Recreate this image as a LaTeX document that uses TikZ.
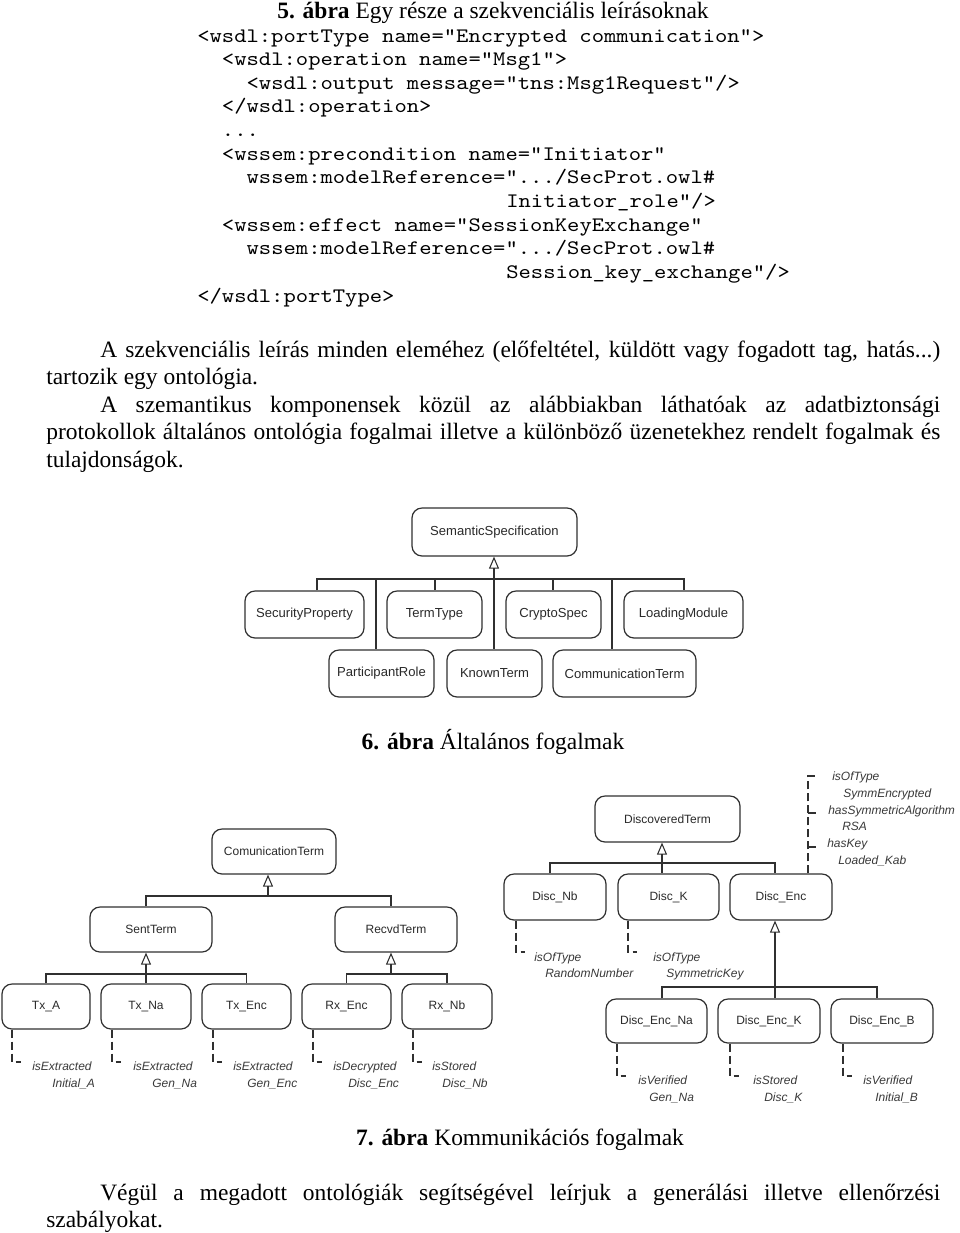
\documentclass[tikz,border=0pt]{standalone}
\usepackage{fontspec}
\setmainfont{Liberation Serif}
\setsansfont{Liberation Sans}
\newfontfamily\codefont{lmmono10-regular.otf}[FakeStretch=1.14]
\usetikzlibrary{arrows.meta}
\definecolor{lc}{HTML}{303030}
\definecolor{tc}{HTML}{2A2A2A}
\definecolor{ac}{HTML}{3A3A3A}
\newcommand\ubox[6]{\node[umlbox,minimum width={0.75pt*(#4-#2)},minimum height={0.75pt*(#5-#3)}] (#1) at ({(#2+#4)/2},{(#3+#5)/2}) {#6};}
\begin{document}
\begin{tikzpicture}[x=0.75pt,y=-0.75pt,
  umlbox/.style={draw=lc, line width=0.9pt, rounded corners=7.5pt, inner sep=0pt, text=tc, font=\sffamily\fontsize{9}{10}\selectfont},
  conn/.style={draw=lc, line width=0.8pt},
  gen/.style={conn, -{Triangle[open, length=9pt, width=7.5pt]}},
  dashl/.style={draw=lc, line width=0.8pt, dash pattern=on 6pt off 3pt},
  annot/.style={font=\sffamily\itshape\fontsize{9}{10}\selectfont, text=ac, inner sep=0pt, anchor=base west},
  body/.style={font=\fontsize{17.6}{21}\selectfont, inner sep=0pt, anchor=base west},
  code/.style={font=\codefont\fontsize{15.45}{18}\selectfont, inner sep=0pt, anchor=base west}]
\useasboundingbox[fill=white] (0,0) rectangle (960,1233);

% ---- caption 5 and code
\node[body, anchor=base] (cap5) at (493,18) {\textbf{5. ábra} Egy része a szekvenciális leírásoknak};
\node[code] (c1) at (197,42) {<wsdl:portType name="Encrypted communication">};
\node[code] (c2) at (221.7,65.6) {<wsdl:operation name="Msg1">};
\node[code] (c3) at (246.4,89.3) {<wsdl:output message="tns:Msg1Request"/>};
\node[code] (c4) at (221.7,112.9) {</wsdl:operation>};
\node[code] (c5) at (221.7,136.6) {...};
\node[code] (c6) at (221.7,160.2) {<wssem:precondition name="Initiator"};
\node[code] (c7) at (246.4,183.8) {wssem:modelReference=".../SecProt.owl\#};
\node[code] (c8) at (506,207.5) {Initiator\_role"/>};
\node[code] (c9) at (221.7,231.1) {<wssem:effect name="SessionKeyExchange"};
\node[code] (c10) at (246.4,254.8) {wssem:modelReference=".../SecProt.owl\#};
\node[code] (c11) at (506,278.4) {Session\_key\_exchange"/>};
\node[code] (c12) at (197,302) {</wsdl:portType>};

% ---- paragraphs
\node[body] (p1a) at (100,357) {\makebox[630pt][s]{A szekvenciális leírás minden eleméhez (előfeltétel, küldött vagy fogadott tag, hatás...)}};
\node[body] (p1b) at (46,384) {tartozik egy ontológia.};
\node[body] (p2a) at (100,412) {\makebox[630pt][s]{A szemantikus komponensek közül az alábbiakban láthatóak az adatbiztonsági}};
\node[body] (p2b) at (46,439) {\makebox[670.5pt][s]{protokollok általános ontológia fogalmai illetve a különböző üzenetekhez rendelt fogalmak és}};
\node[body] (p2c) at (46,467) {tulajdonságok.};

% ---- figure 6
\ubox{ss}{412}{508}{577}{556}{\fontsize{9.8}{11}\selectfont SemanticSpecification}
\ubox{sp}{245}{591}{364}{638}{\fontsize{9.8}{11}\selectfont SecurityProperty}
\ubox{tt}{387}{591}{482}{638}{\fontsize{9.8}{11}\selectfont TermType}
\ubox{cs}{506}{591}{601}{638}{\fontsize{9.8}{11}\selectfont CryptoSpec}
\ubox{lm}{624}{591}{743}{638}{\fontsize{9.8}{11}\selectfont LoadingModule}
\ubox{pr}{329}{650}{434}{697}{\fontsize{9.8}{11}\selectfont ParticipantRole}
\ubox{kt}{447}{650}{542}{697}{\fontsize{9.8}{11}\selectfont KnownTerm}
\ubox{ct}{553}{650}{696}{697}{\fontsize{9.8}{11}\selectfont CommunicationTerm}
\coordinate (b6) at (494,579);
\coordinate (d6a) at (317,579);
\coordinate (d6b) at (376,579);
\coordinate (d6c) at (435,579);
\coordinate (d6d) at (553,579);
\coordinate (d6e) at (612,579);
\coordinate (d6f) at (684,579);
\draw[gen] (b6) -- (b6 |- ss.south);
\draw[conn] (d6a |- sp.north) -- (d6a) -- (d6f) -- (d6f |- lm.north);
\draw[conn] (d6b) -- (d6b |- pr.north);
\draw[conn] (d6c) -- (d6c |- tt.north);
\draw[conn] (b6) -- (b6 |- kt.north);
\draw[conn] (d6d) -- (d6d |- cs.north);
\draw[conn] (d6e) -- (d6e |- ct.north);
\node[body, anchor=base] (cap6) at (493,749) {\textbf{6. ábra} Általános fogalmak};

% ---- figure 7, left tree
\ubox{cmt}{212}{829}{336}{874}{ComunicationTerm}
\ubox{st}{90}{907}{212}{952}{SentTerm}
\ubox{rt}{335}{907}{457}{952}{RecvdTerm}
\ubox{txa}{2}{984}{90}{1029}{Tx\_A}
\ubox{txna}{101}{984}{191}{1029}{Tx\_Na}
\ubox{txenc}{202}{984}{291}{1029}{Tx\_Enc}
\ubox{rxenc}{302}{984}{391}{1029}{Rx\_Enc}
\ubox{rxnb}{402}{984}{492}{1029}{Rx\_Nb}
\coordinate (bL) at (268,896);
\coordinate (bLa) at (146,896);
\coordinate (bLb) at (391,896);
\draw[gen] (bL) -- (bL |- cmt.south);
\draw[conn] (bLa |- st.north) -- (bLa) -- (bLb) -- (bLb |- rt.north);
\coordinate (bS) at (146,974);
\draw[gen] (bS) -- (bS |- st.south);
\draw[conn] (txa.north) -- (txa.north |- bS) -- (txenc.north |- bS) -- (txenc.north);
\draw[conn] (bS) -- (bS |- txna.north);
\coordinate (bR) at (391,974);
\draw[gen] (bR) -- (bR |- rt.south);
\draw[conn] (rxenc.north) -- (rxenc.north |- bR) -- (rxnb.north |- bR) -- (rxnb.north);
% annotations left
\coordinate (k1) at (12,1062);
\coordinate (k2) at (112,1062);
\coordinate (k3) at (213,1062);
\coordinate (k4) at (313,1062);
\coordinate (k5) at (413,1062);
\draw[dashl] (k1 |- txa.south) -- (k1) -- ++(9,0);
\draw[dashl] (k2 |- txna.south) -- (k2) -- ++(9,0);
\draw[dashl] (k3 |- txenc.south) -- (k3) -- ++(9,0);
\draw[dashl] (k4 |- rxenc.south) -- (k4) -- ++(9,0);
\draw[dashl] (k5 |- rxnb.south) -- (k5) -- ++(9,0);
\node[annot] (k1a) at (32,1070) {isExtracted};
\node[annot] (k1b) at (52,1087) {Initial\_A};
\node[annot] (k2a) at (133,1070) {isExtracted};
\node[annot] (k2b) at (152,1087) {Gen\_Na};
\node[annot] (k3a) at (233,1070) {isExtracted};
\node[annot] (k3b) at (247,1087) {Gen\_Enc};
\node[annot] (k4a) at (333,1070) {isDecrypted};
\node[annot] (k4b) at (348,1087) {Disc\_Enc};
\node[annot] (k5a) at (432,1070) {isStored};
\node[annot] (k5b) at (442,1087) {Disc\_Nb};

% ---- figure 7, right tree
\ubox{dt}{595}{796}{740}{842}{DiscoveredTerm}
\ubox{dnb}{504}{874}{606}{920}{Disc\_Nb}
\ubox{dk}{618}{874}{719}{920}{Disc\_K}
\ubox{de}{730}{874}{832}{920}{Disc\_Enc}
\ubox{dena}{606}{999}{707}{1043}{Disc\_Enc\_Na}
\ubox{dek}{718}{999}{820}{1043}{Disc\_Enc\_K}
\ubox{deb}{831}{999}{933}{1043}{Disc\_Enc\_B}
\coordinate (bD) at (662,863);
\coordinate (bDa) at (550,863);
\coordinate (bDc) at (775,863);
\draw[gen] (bD) -- (bD |- dt.south);
\draw[conn] (bDa |- dnb.north) -- (bDa) -- (bDc) -- (bDc |- de.north);
\draw[conn] (bD) -- (bD |- dk.north);
\coordinate (bE) at (775,987);
\coordinate (bEa) at (662,987);
\coordinate (bEc) at (877,987);
\draw[gen] (bE) -- (bE |- de.south);
\draw[conn] (bEa |- dena.north) -- (bEa) -- (bEc) -- (bEc |- deb.north);
\draw[conn] (bE) -- (bE |- dek.north);
% annotations right
\coordinate (q0) at (808,776);
\coordinate (q1) at (808,813);
\coordinate (q2) at (808,847);
\draw[dashl] (q0 |- de.north) -- (q0) -- ++(9,0);
\draw[dashl] (q1) -- ++(9,0);
\draw[dashl] (q2) -- ++(9,0);
\node[annot] (q0a) at (832,780) {isOfType};
\node[annot] (q0b) at (843,797) {SymmEncrypted};
\node[annot] (q1a) at (828,814) {hasSymmetricAlgorithm};
\node[annot] (q1b) at (842,830) {RSA};
\node[annot] (q2a) at (827,847) {hasKey};
\node[annot] (q2b) at (838,864) {Loaded\_Kab};
\coordinate (m1) at (516,952);
\coordinate (m2) at (628,952);
\draw[dashl] (m1 |- dnb.south) -- (m1) -- ++(9,0);
\draw[dashl] (m2 |- dk.south) -- (m2) -- ++(9,0);
\node[annot] (m1a) at (534,961) {isOfType};
\node[annot] (m1b) at (545,977) {RandomNumber};
\node[annot] (m2a) at (653,961) {isOfType};
\node[annot] (m2b) at (666,977) {SymmetricKey};
\coordinate (n1) at (617,1076);
\coordinate (n2) at (730,1076);
\coordinate (n3) at (843,1076);
\draw[dashl] (n1 |- dena.south) -- (n1) -- ++(9,0);
\draw[dashl] (n2 |- dek.south) -- (n2) -- ++(9,0);
\draw[dashl] (n3 |- deb.south) -- (n3) -- ++(9,0);
\node[annot] (n1a) at (638,1084) {isVerified};
\node[annot] (n1b) at (649,1101) {Gen\_Na};
\node[annot] (n2a) at (753,1084) {isStored};
\node[annot] (n2b) at (764,1101) {Disc\_K};
\node[annot] (n3a) at (863,1084) {isVerified};
\node[annot] (n3b) at (875,1101) {Initial\_B};

\node[body, anchor=base] (cap7) at (520,1145) {\textbf{7. ábra} Kommunikációs fogalmak};

% ---- final paragraph
\node[body] (p3a) at (100,1200) {\makebox[630pt][s]{Végül a megadott ontológiák segítségével leírjuk a generálási illetve ellenőrzési}};
\node[body] (p3b) at (46,1227) {szabályokat.};
\end{tikzpicture}
\end{document}
